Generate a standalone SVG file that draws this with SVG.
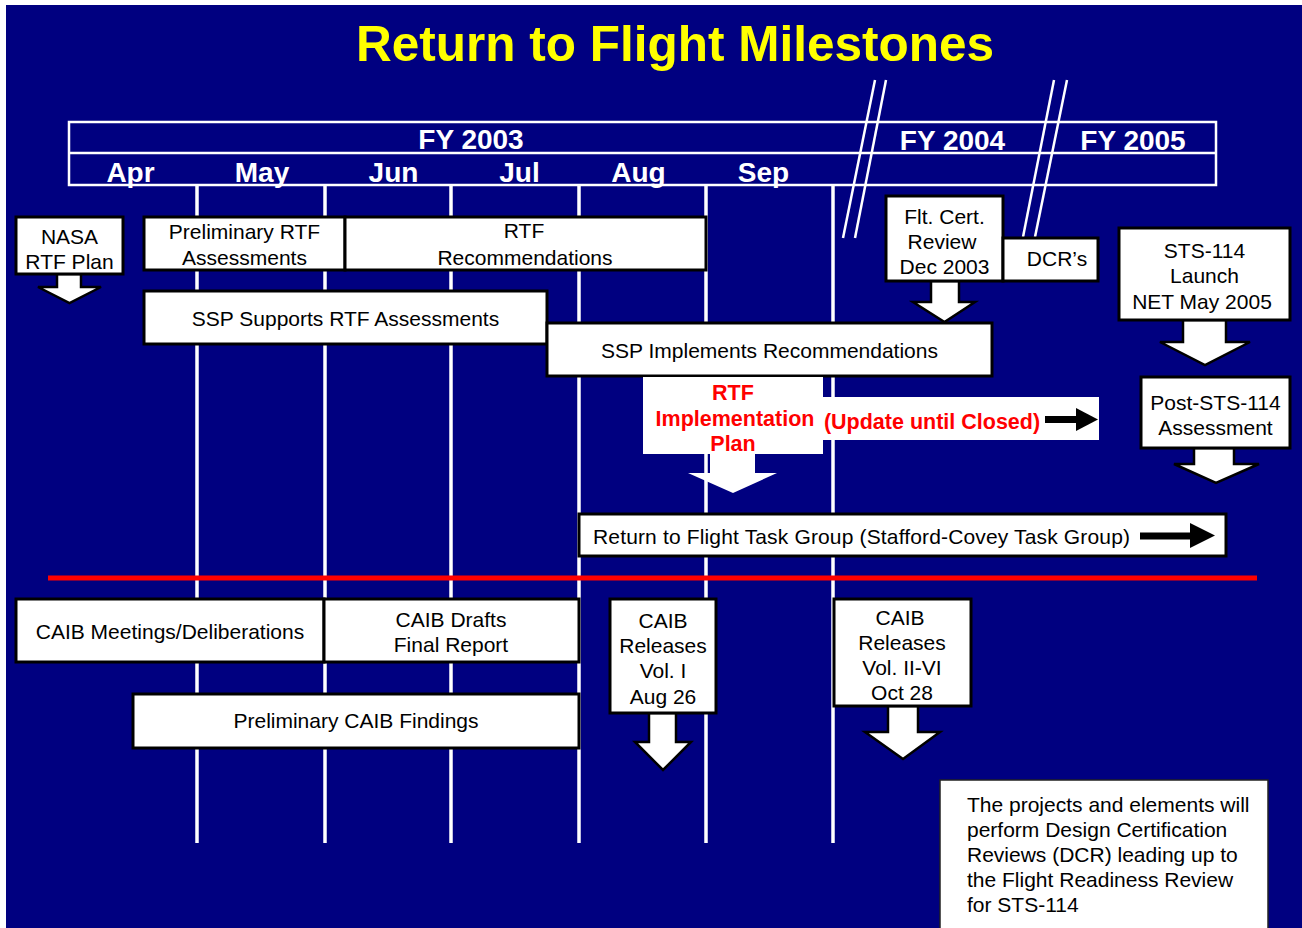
<svg xmlns="http://www.w3.org/2000/svg" width="1302" height="928" viewBox="0 0 1302 928">
<style>
.bg{fill:#000080}
.hdr{fill:none;stroke:#fff;stroke-width:2.5}
.wl{stroke:#fff;stroke-width:3.5}
.sl{stroke:#fff;stroke-width:2.5}
.box{fill:#fff;stroke:#000;stroke-width:3}
.plain{fill:#fff}
.arr{fill:#fff;stroke:#000;stroke-width:2.5;stroke-linejoin:miter}
.t{font-family:"Liberation Sans",Arial,sans-serif;font-size:21px;fill:#000;text-anchor:middle}
.tl{text-anchor:start}
.h{font-family:"Liberation Sans",Arial,sans-serif;font-weight:bold;font-size:28px;fill:#fff;text-anchor:middle}
.r{font-family:"Liberation Sans",Arial,sans-serif;font-weight:bold;font-size:21.5px;fill:#ff0000;text-anchor:middle}
</style>
<rect class="bg" x="6" y="5" width="1296" height="923"/>
<text x="675" y="61" style="font-family:'Liberation Sans',Arial,sans-serif;font-weight:bold;font-size:49.5px;fill:#ffff00;text-anchor:middle">Return to Flight Milestones</text>

<g id="timeline">
<rect class="hdr" x="69" y="122" width="1147" height="63"/>
<line class="hdr" x1="69" y1="153" x2="1216" y2="153"/>
<line class="wl" x1="197" y1="186" x2="197" y2="843"/>
<line class="wl" x1="325" y1="186" x2="325" y2="843"/>
<line class="wl" x1="451" y1="186" x2="451" y2="843"/>
<line class="wl" x1="579" y1="186" x2="579" y2="843"/>
<line class="wl" x1="706" y1="186" x2="706" y2="843"/>
<line class="wl" x1="833" y1="186" x2="833" y2="843"/>
<line class="sl" x1="843" y1="238" x2="875" y2="80"/>
<line class="sl" x1="855" y1="238" x2="886" y2="80"/>
<line class="sl" x1="1023" y1="237" x2="1054" y2="80"/>
<line class="sl" x1="1035" y1="237" x2="1067" y2="80"/>
<text class="h" x="471" y="149">FY 2003</text>
<text class="h" x="952.5" y="150">FY 2004</text>
<text class="h" x="1133" y="150">FY 2005</text>
<text class="h" x="130.5" y="182">Apr</text>
<text class="h" x="262" y="182">May</text>
<text class="h" x="393.5" y="182">Jun</text>
<text class="h" x="519.5" y="182">Jul</text>
<text class="h" x="638.5" y="182">Aug</text>
<text class="h" x="763.5" y="182">Sep</text>
<line x1="48" y1="578" x2="1257" y2="578" stroke="#ff0000" stroke-width="5"/>
</g>

<g id="connectors">
<polygon class="arr" points="57,274 57,287 38,287 69.5,303 101,287 81,287 81,274"/>
<polygon class="arr" points="931,281 931,302 913,302 944.5,322 975,302 959,302 959,281"/>
<polygon class="arr" points="1183,320 1183,342 1160,342 1205,365 1250,342 1226,342 1226,320"/>
<polygon class="arr" points="1194,448 1194,464 1174,464 1216,483 1259,464 1234,464 1234,448"/>
<polygon class="arr" points="649,713 649,742 635,742 663,770 691,742 676,742 676,713"/>
<polygon class="arr" points="888,706 888,732 865,732 903,759 940,732 918,732 918,706"/>
<polygon class="plain" points="710,453 710,473 688,473 733,493 777,473 755,473 755,453"/>
</g>

<g id="nasa-plan"><rect class="box" x="16" y="217" width="107" height="57"/>
<text class="t" x="69.5" y="244">NASA</text><text class="t" x="69.5" y="269">RTF Plan</text></g>
<g id="prelim-rtf"><rect class="box" x="144" y="217" width="201" height="53"/>
<text class="t" x="244.5" y="239">Preliminary RTF</text><text class="t" x="244.5" y="265">Assessments</text></g>
<g id="rtf-rec"><rect class="box" x="345" y="217" width="361" height="53"/>
<text class="t" x="524" y="238">RTF</text><text class="t" x="525" y="265">Recommendations</text></g>
<g id="ssp-supports"><rect class="box" x="144" y="291" width="403" height="53"/>
<text class="t" x="345.5" y="326">SSP Supports RTF Assessments</text></g>
<g id="ssp-impl"><rect class="box" x="547" y="323" width="445" height="53"/>
<text class="t" x="769.5" y="358">SSP Implements Recommendations</text></g>
<g id="flt-cert"><rect class="box" x="886" y="196" width="117" height="85"/>
<text class="t" x="944.5" y="224">Flt. Cert.</text><text class="t" x="942" y="249">Review</text><text class="t" x="944.5" y="274">Dec 2003</text></g>
<g id="dcrs"><rect class="box" x="1003" y="238" width="95" height="43"/>
<text class="t" x="1057" y="266">DCR’s</text></g>
<g id="sts-launch"><rect class="box" x="1119" y="228" width="171" height="92"/>
<text class="t" x="1204.5" y="258">STS-114</text><text class="t" x="1204.5" y="283">Launch</text><text class="t" x="1202" y="309">NET May 2005</text></g>
<g id="post-sts"><rect class="box" x="1141" y="377" width="149" height="71"/>
<text class="t" x="1215.5" y="410">Post-STS-114</text><text class="t" x="1215.5" y="435">Assessment</text></g>
<g id="rtf-impl"><rect class="plain" x="643" y="377" width="180" height="77"/>
<rect class="plain" x="822" y="397" width="277" height="43"/>
<text class="r" x="733" y="400">RTF</text><text class="r" x="735" y="426">Implementation</text><text class="r" x="733" y="451">Plan</text>
<text class="r" x="932" y="429">(Update until Closed)</text>
<line x1="1045" y1="419.5" x2="1078" y2="419.5" stroke="#000" stroke-width="7"/>
<polygon points="1076,408 1098,419.5 1076,431" fill="#000"/></g>
<g id="rtf-task-group"><rect class="box" x="579" y="514" width="647" height="42"/>
<text class="t tl" x="593" y="544" textLength="537" lengthAdjust="spacing">Return to Flight Task Group (Stafford-Covey Task Group)</text>
<line x1="1140" y1="536" x2="1192" y2="536" stroke="#000" stroke-width="7"/>
<polygon points="1190,523 1215,535.5 1190,548" fill="#000"/></g>

<g id="caib-meetings"><rect class="box" x="16" y="599" width="308" height="63"/>
<text class="t" x="170" y="639">CAIB Meetings/Deliberations</text></g>
<g id="caib-drafts"><rect class="box" x="324" y="599" width="255" height="63"/>
<text class="t" x="451" y="627">CAIB Drafts</text><text class="t" x="451" y="652">Final Report</text></g>
<g id="prelim-caib"><rect class="box" x="133" y="694" width="446" height="54"/>
<text class="t" x="356" y="728">Preliminary CAIB Findings</text></g>
<g id="caib-vol1"><rect class="box" x="610" y="599" width="106" height="114"/>
<text class="t" x="663" y="628">CAIB</text><text class="t" x="663" y="653">Releases</text><text class="t" x="663" y="678">Vol. I</text><text class="t" x="663" y="704">Aug 26</text></g>
<g id="caib-vol2"><rect class="box" x="834" y="599" width="137" height="107"/>
<text class="t" x="900" y="625">CAIB</text><text class="t" x="902" y="650">Releases</text><text class="t" x="902" y="675">Vol. II-VI</text><text class="t" x="902" y="700">Oct 28</text></g>
<g id="note"><rect x="940" y="780" width="328" height="160" fill="#fff" stroke="#222" stroke-width="1.5"/>
<text class="t tl" x="967" y="812">The projects and elements will</text>
<text class="t tl" x="967" y="837">perform Design Certification</text>
<text class="t tl" x="967" y="862">Reviews (DCR) leading up to</text>
<text class="t tl" x="967" y="887">the Flight Readiness Review</text>
<text class="t tl" x="967" y="912">for STS-114</text></g>
</svg>
